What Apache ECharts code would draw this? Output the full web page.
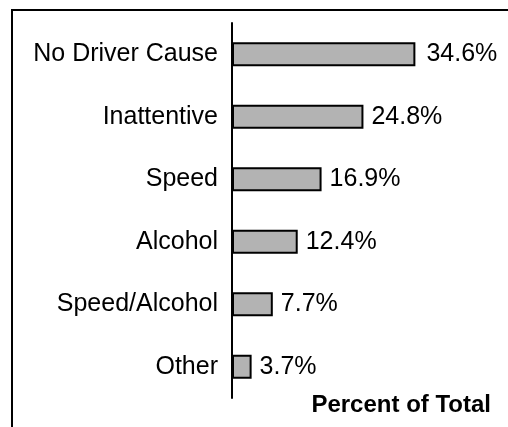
<!DOCTYPE html>
<html>
<head>
<meta charset="utf-8">
<script src="https://cdn.jsdelivr.net/npm/echarts@6/dist/echarts.min.js"></script>
<style>
  html, body { margin: 0; padding: 0; background: #fff; }
  #chart { width: 508px; height: 427px; }
</style>
</head>
<body>
<div id="chart"></div>
<script>
// Share of crashes by primary driver cause
const causes = ['No Driver Cause', 'Inattentive', 'Speed', 'Alcohol', 'Speed/Alcohol', 'Other'];
const percents = [34.6, 24.8, 16.9, 12.4, 7.7, 3.7];
const axisTitle = 'Percent of Total';

const FONT = 'Liberation Sans, Arial, Helvetica, sans-serif';

const chart = echarts.init(document.getElementById('chart'), null, { renderer: 'canvas' });

// the longest bar's label sits a little further out
const barData = percents.map((v, i) => i === 0 ? { value: v, label: { distance: 11 } } : v);

chart.setOption({
  animation: false,
  backgroundColor: '#ffffff',
  grid: { left: 232, right: 64, top: 23, bottom: 29, containLabel: false },
  xAxis: {
    type: 'value',
    min: 0,
    max: 40,
    show: false
  },
  yAxis: {
    type: 'category',
    data: causes,
    inverse: true,
    axisLine: { show: true, lineStyle: { color: '#000', width: 2 } },
    axisTick: { show: false },
    splitLine: { show: false },
    axisLabel: {
      color: '#000',
      fontFamily: FONT,
      fontSize: 25,
      margin: 14,
      padding: [0, 0, 6, 0]
    }
  },
  series: [{
    type: 'bar',
    data: barData,
    barWidth: 24,
    itemStyle: { color: '#b3b3b3', borderColor: '#000', borderWidth: 2 },
    label: {
      show: true,
      position: 'right',
      distance: 8,
      color: '#000',
      fontFamily: FONT,
      fontSize: 25,
      formatter: p => p.value.toFixed(1) + '%'
    }
  }],
  graphic: [
    {
      type: 'rect',
      shape: { x: 12, y: 10, width: 520, height: 440 },
      style: { fill: 'none', stroke: '#000', lineWidth: 2 },
      silent: true
    },
    {
      type: 'text',
      x: 491,
      y: 405,
      style: {
        text: axisTitle,
        fill: '#000',
        font: 'bold 24px ' + FONT,
        textAlign: 'right',
        textVerticalAlign: 'middle'
      }
    }
  ]
});
</script>
</body>
</html>
